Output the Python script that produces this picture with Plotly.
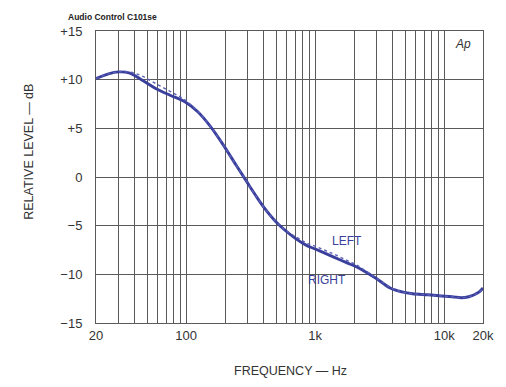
import plotly.graph_objects as go

# Frequency response, Audio Control C101se (level vs. frequency)
freq_hz = [20, 25, 30, 36, 45, 58, 75, 97, 123, 154, 196, 247, 294, 340, 402,
           496, 600, 702, 850, 1000, 1200, 1410, 1750, 2100, 2500, 3000, 3815,
           4700, 5700, 7500, 9100, 11500, 13600, 15500, 17100, 18700, 20000]
left_db = [10.1, 10.6, 10.8, 10.8, 10.4, 9.6, 8.8, 7.95, 6.75, 5.2, 3.2, 1.1, -0.45,
           -1.75, -3.15, -4.6, -5.55, -6.1, -6.75, -7.1, -7.55, -7.95, -8.55, -9.05,
           -9.7, -10.4, -11.35, -11.8, -12.0, -12.1, -12.2, -12.3, -12.4, -12.3,
           -12.1, -11.8, -11.4]
right_db = [10.1, 10.6, 10.8, 10.7, 10.0, 9.1, 8.4, 7.75, 6.7, 5.2, 3.2, 1.1, -0.45,
            -1.75, -3.15, -4.6, -5.6, -6.3, -7.0, -7.4, -7.85, -8.25, -8.8, -9.25,
            -9.8, -10.45, -11.4, -11.8, -12.0, -12.1, -12.2, -12.3, -12.4, -12.3,
            -12.1, -11.8, -11.4]

# Grid and tick labels
x_grid = ([20, 30, 40, 50, 60, 70, 80, 90, 100] +
          [200, 300, 400, 500, 600, 700, 800, 900, 1000] +
          [2000, 3000, 4000, 5000, 6000, 7000, 8000, 9000, 10000, 20000])
x_labels = {20: "20", 100: "100", 1000: "1k", 10000: "10k", 20000: "20k"}
y_ticks = [-15, -10, -5, 0, 5, 10, 15]
y_labels = ["\u221215", "\u221210", "\u22125", "0", "+5", "+10", "+15"]

curve_color = "#3a3f9c"
grid_color = "#5a5a5a"
text_color = "#333333"
font_family = "Liberation Sans, Arial, sans-serif"

# Plot-area geometry in pixels
W, H = 506, 387
ML, MR, MT, MB = 96, 14, 31, 64
plot_w = W - ML - MR
plot_h = H - MT - MB


def px_x(px):
    return (px - ML) / plot_w


def px_y(py):
    return (H - MB - py) / plot_h


fig = go.Figure()
fig.add_trace(go.Scatter(x=freq_hz, y=right_db, mode="lines", name="RIGHT",
                         line=dict(color=curve_color, width=2.9, shape="spline")))
fig.add_trace(go.Scatter(x=freq_hz, y=left_db, mode="lines", name="LEFT",
                         line=dict(color="#5a5fb8", width=1.4, dash="dot", shape="spline")))

fig.update_layout(
    width=W, height=H,
    margin=dict(l=ML, r=MR, t=MT, b=MB),
    paper_bgcolor="white", plot_bgcolor="white",
    showlegend=False,
    font=dict(family=font_family, color=text_color, size=13),
    xaxis=dict(
        type="log", range=[1.30103, 4.30103],
        tickvals=x_grid,
        ticktext=[x_labels.get(v, "") for v in x_grid],
        showgrid=True, gridcolor=grid_color, gridwidth=1,
        showline=True, linecolor=grid_color, linewidth=1, mirror=True,
        ticks="", zeroline=False, tickfont=dict(size=13),
    ),
    yaxis=dict(
        range=[-15, 15],
        tickvals=y_ticks, ticktext=y_labels,
        showgrid=True, gridcolor=grid_color, gridwidth=1,
        showline=True, linecolor=grid_color, linewidth=1, mirror=True,
        ticks="", zeroline=False, tickfont=dict(size=13), ticklabelstandoff=10,
    ),
    annotations=[
        dict(text="<b>Audio Control C101se</b>", x=px_x(65), y=px_y(17),
             xref="paper", yref="paper", xanchor="left", yanchor="middle",
             showarrow=False, font=dict(size=8.5, color="#222")),
        dict(text="<i>Ap</i>", x=0.975, y=0.985, xref="paper", yref="paper",
             xanchor="right", yanchor="top", showarrow=False,
             font=dict(size=12, color="#333")),
        dict(text="LEFT", x=3.248, y=-6.6, xref="x", yref="y", showarrow=False,
             font=dict(size=12, color=curve_color)),
        dict(text="RIGHT", x=3.089, y=-10.6, xref="x", yref="y", showarrow=False,
             font=dict(size=12, color=curve_color)),
        dict(text="RELATIVE LEVEL \u2014 dB", x=px_x(18), y=px_y(152),
             xref="paper", yref="paper", textangle=-90, showarrow=False,
             font=dict(size=12.5, color=text_color)),
        dict(text="FREQUENCY \u2014 Hz", x=px_x(295), y=px_y(380),
             xref="paper", yref="paper", showarrow=False,
             font=dict(size=12.5, color=text_color)),
    ],
)

fig.write_html("out.html")
